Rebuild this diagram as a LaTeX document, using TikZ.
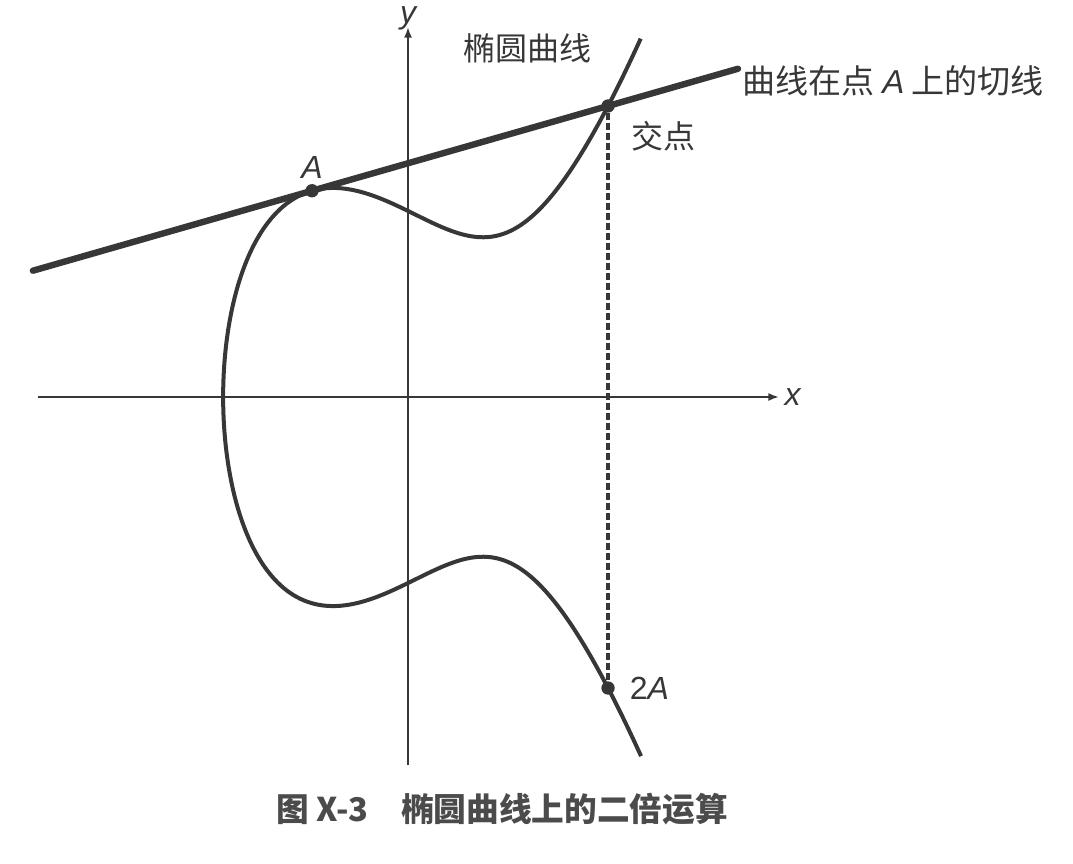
\documentclass[tikz,border=0pt]{standalone}
\usepackage{fontspec}
\setmainfont{Liberation Sans}
\newfontfamily\cjk{Noto Sans CJK SC}
\usetikzlibrary{arrows.meta,positioning,calc}
\definecolor{ink}{RGB}{55,55,55}
\tikzstyle{axis}=[draw=ink,line width=1.4pt,-{Latex[length=8pt,width=6pt]}]
\tikzstyle{curve}=[draw=ink,line width=3pt]
\tikzstyle{tangent}=[draw=ink,line width=4.8pt,line cap=round]
\tikzstyle{projection}=[draw=ink,line width=2.5pt,dash pattern=on 5pt off 2.5pt]
\tikzstyle{point}=[circle,fill=ink,inner sep=0pt,minimum size=10pt]
\tikzstyle{tag}=[text=ink,font=\fontsize{24}{28}\selectfont,inner sep=1pt]
\tikzstyle{caption}=[text=ink!90,font=\cjk\bfseries\fontsize{24.5}{30}\selectfont]

\begin{document}
\begin{tikzpicture}[x=0.75pt,y=-0.75pt,
    declare function={ex(\t)=-2.34+\t*\t; ey(\t)=\t*sqrt(ex(\t)*ex(\t)-2.34*ex(\t)+2.7756);}]
    \useasboundingbox (0,0) rectangle (1073,863);

    % axes
    \coordinate (xs) at (38,397);
    \coordinate (xe) at (779,397);
    \coordinate (ys) at (408,765);
    \coordinate (ye) at (408,27);
    \draw[axis] (xs) -- (xe);
    \draw[axis] (ys) -- (ye);
    \node[tag, right=3pt of xe] (xlab) {\itshape x};
    \node[tag, above=-3.5pt of ye] (ylab) {\itshape y};

    % curve and the points on it
    \draw[curve] plot[domain=-2.3:2.3, samples=201, smooth, variable=\t]
        ({408+79*ex(\t)}, {397-73*ey(\t)});
    \coordinate (pA) at ({408+79*ex(1.0607)}, {397-73*ey(1.0607)});
    \coordinate (pR) at ({408+79*ex(2.2073)}, {397-73*ey(2.2073)});
    \coordinate (pD) at ({408+79*ex(-2.2073)}, {397-73*ey(-2.2073)});

    % tangent through A
    \coordinate (tl) at ($(pA)!-0.943!(pR)$);
    \coordinate (tr) at ($(pA)!1.439!(pR)$);
    \draw[tangent] (tl) -- (tr);

    \node[point] (A) at (pA) {};
    \node[point] (R) at (pR) {};
    \node[point] (D) at (pD) {};
    \draw[projection] (R) -- (D);

    % labels
    \node[tag, above=3pt of A] (Alab) {\itshape A};
    \node[tag] (Rlab) at (663,136) {\cjk 交点};
    \node[tag, right=10pt of D] (Dlab) {2\itshape A};
    \node[tag] (clab) at (527,48) {\cjk 椭圆曲线};
    \node[tag, anchor=west, font=\fontsize{24.8}{28}\selectfont] (tlab) at (741,81) {\cjk 曲线在点 {\rmfamily\itshape A} 上的切线};
    \node[caption] (cap) at (502,809) {图 X-3\hspace{1em}椭圆曲线上的二倍运算};
\end{tikzpicture}
\end{document}
